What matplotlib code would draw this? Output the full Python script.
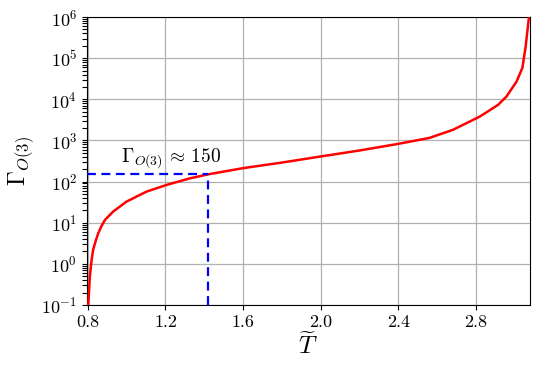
import matplotlib
matplotlib.use("Agg")
import matplotlib.pyplot as plt
from matplotlib.ticker import FixedLocator, NullFormatter

plt.rcParams["font.family"] = "serif"
plt.rcParams["font.serif"] = ["cmr10"]
plt.rcParams["mathtext.fontset"] = "cm"
plt.rcParams["axes.formatter.use_mathtext"] = True

# ---- data ------------------------------------------------------------------
t_tilde = [0.802, 0.810, 0.819, 0.827, 0.840, 0.853, 0.870, 0.888, 0.930, 0.999,
           1.102, 1.206, 1.326, 1.42, 1.60, 1.80, 1.996, 2.2,
           2.40, 2.56, 2.683, 2.82, 2.915, 2.958, 3.01, 3.04, 3.057, 3.074]
gamma = [0.1, 0.49, 1.24, 2.2, 3.6, 5.5, 8.3, 11.7, 18.6, 32.6,
         57, 83, 120, 150, 212, 290, 405, 570,
         826, 1150, 1820, 3800, 7350, 11700, 27000, 58000, 193000, 1e6]

gamma_mark = 150
t_mark = 1.42

xticks = [0.8, 1.2, 1.6, 2.0, 2.4, 2.8]
decades = [-1, 0, 1, 2, 3, 4, 5]

fig = plt.figure(figsize=(5.4, 3.71), dpi=100)
ax = fig.add_axes([0.161, 0.178, 0.82, 0.776])

ax.plot(t_tilde, gamma, color="red", lw=1.8, zorder=3)
ax.plot([0.795, t_mark], [gamma_mark, gamma_mark], color="blue", lw=1.6,
        ls=(0, (4, 2.5)), zorder=4)
ax.plot([t_mark, t_mark], [0.1, gamma_mark], color="blue", lw=1.6,
        ls=(0, (4, 2.5)), zorder=4)
ax.text(0.972, 195, r"$\Gamma_{O(3)}\,\approx\,150$", fontsize=14,
        ha="left", va="bottom")

ax.set_yscale("log")
ax.set_xlim(0.795, 3.078)
ax.set_ylim(1e-1, 1e6)
ax.set_xticks(xticks)
ax.set_xticklabels([f"{v:.1f}" for v in xticks])
ax.set_yticks([10.0 ** d for d in decades + [6]])
minor = [m * 10.0 ** d for d in decades for m in range(2, 10)]
ax.yaxis.set_minor_locator(FixedLocator(minor))
ax.yaxis.set_minor_formatter(NullFormatter())
ax.tick_params(labelsize=13)
ax.tick_params(axis="y", which="minor", length=3.5, width=0.8)
ax.grid(True, which="major", color="#b0b0b0", lw=0.9)
ax.set_axisbelow(True)

ax.set_xlabel(r"$\widetilde{T}$", fontsize=18, labelpad=2)
ax.set_ylabel(r"$\Gamma_{O(3)}$", fontsize=17, labelpad=4)

fig.savefig("out.png", dpi=100, facecolor="white")
